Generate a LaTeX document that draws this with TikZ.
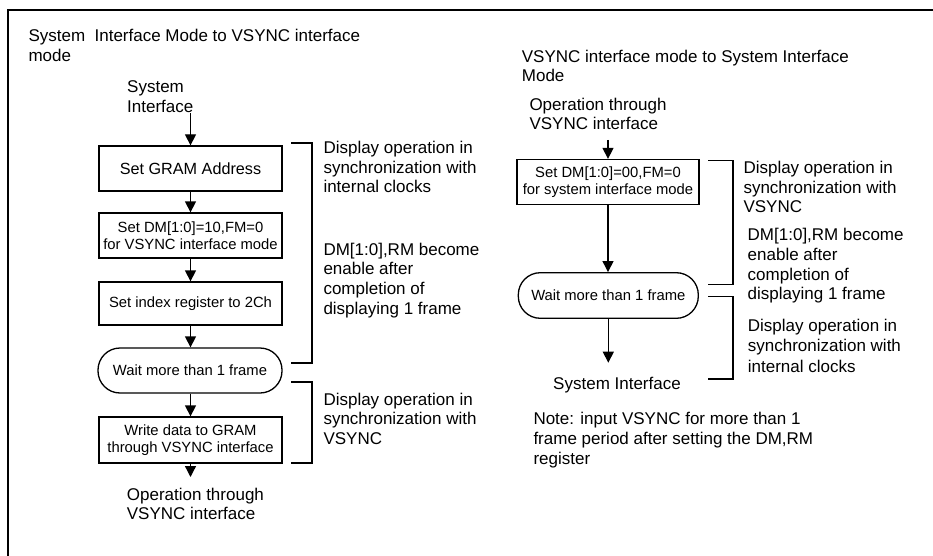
\documentclass[tikz,border=0pt]{standalone}
\usepackage{fontspec}
\setmainfont{Liberation Sans}
\usetikzlibrary{arrows.meta}
\begin{document}
\begin{tikzpicture}[x=1pt,y=-1pt,
  lbl/.style={anchor=north west,inner sep=0pt,align=left,font=\fontsize{17}{19.7}\selectfont},
  boxbig/.style={draw,line width=1.3pt,inner sep=0pt,align=center,font=\fontsize{16.2}{19}\selectfont},
  boxsm/.style={draw,line width=1.3pt,inner sep=0pt,align=center,font=\fontsize{14.8}{17.5}\selectfont},
  arr/.style={line width=1.3pt,-{Triangle[length=11pt,width=11pt]}},
  brk/.style={line width=1.3pt}]
\useasboundingbox (0,0) rectangle (933,556);
\draw[line width=2.2pt] (8,556) -- (8,10) -- (933,10);

% ---------- left flow ----------
\node[lbl] (titleL) at (28.3,29.3) {System\ \ Interface Mode to VSYNC interface\\mode};
\node[lbl] (sysin) at (127,80.9) {System\\Interface};
\node[boxbig,minimum width=183pt,minimum height=45pt] (b1) at (190.5,168.5) {Set GRAM Address};
\node[boxsm,minimum width=183pt,minimum height=45pt] (b2) at (190.5,235.5) {Set DM[1:0]=10,FM=0\\for VSYNC interface mode};
\node[boxsm,minimum width=183pt,minimum height=43pt] (b3) at (190.5,303.5) {Set index register to 2Ch};
\node[boxsm,minimum width=184pt,minimum height=45pt,rounded corners=22pt] (w1) at (190,370.5) {Wait more than 1 frame};
\node[boxsm,minimum width=183pt,minimum height=46pt] (b4) at (190.5,440) {Write data to GRAM\\through VSYNC interface};
\node[lbl] (outL) at (126.7,487.6) {Operation through\\VSYNC interface};
\coordinate (endL) at (190.5,477);

\draw[arr] (sysin.south -| b1.north) -- (b1.north);
\draw[arr] (b1) -- (b2);
\draw[arr] (b2) -- (b3);
\draw[arr] (b3.south) -- (w1.north -| b3.south);
\draw[arr] (w1.south -| b4.north) -- (b4.north);
\draw[arr] (b4.south) -- (endL);

\draw[brk] (291,143) -| (312,363) -- (291,363);
\draw[brk] (291,382) -| (312,463) -- (291,463);

\node[lbl] (ld1) at (323.3,140.9) {Display operation in\\synchronization with\\internal clocks};
\node[lbl] (ld2) at (323.3,242.6) {DM[1:0],RM become\\enable after\\completion of\\displaying 1 frame};
\node[lbl] (ld3) at (323.3,392.6) {Display operation in\\synchronization with\\VSYNC};

% ---------- right flow ----------
\node[lbl] (titleR) at (521.7,49.6) {VSYNC interface mode to System Interface\\Mode};
\node[lbl] (opin) at (529.3,97.6) {Operation through\\VSYNC interface};
\node[boxsm,minimum width=182pt,minimum height=45pt] (r1) at (608,182) {Set DM[1:0]=00,FM=0\\for system interface mode};
\node[boxsm,minimum width=180pt,minimum height=45.6pt,rounded corners=22pt] (w2) at (608.3,295.5) {Wait more than 1 frame};
\node[anchor=base,inner sep=0pt,font=\fontsize{17}{19.7}\selectfont] (sysout) at (617,389.3) {System Interface};
\coordinate (startR) at (608,140);
\coordinate (endR) at (608.3,362.7);

\draw[arr] (startR) -- (r1.north);
\draw[arr] (r1.south) -- (w2.north -| r1.south);
\draw[arr] (w2.south) -- (endR);

\draw[brk] (708,160.5) -| (733,284.3) -- (708,284.3);
\draw[brk] (708,296.7) -| (733,379) -- (708,379);

\node[lbl] (rd1) at (743.3,160.9) {Display operation in\\synchronization with\\VSYNC};
\node[lbl] (rd2) at (747.5,228.3) {DM[1:0],RM become\\enable after\\completion of\\displaying 1 frame};
\node[lbl,font=\fontsize{17}{20.5}\selectfont] (rd3) at (747.7,318.6) {Display operation in\\synchronization with\\internal clocks};
\node[lbl,font=\fontsize{17}{20}\selectfont] (note) at (533.3,411.6) {Note: input VSYNC for more than 1\\frame period after setting the DM,RM\\register};
\end{tikzpicture}
\end{document}
